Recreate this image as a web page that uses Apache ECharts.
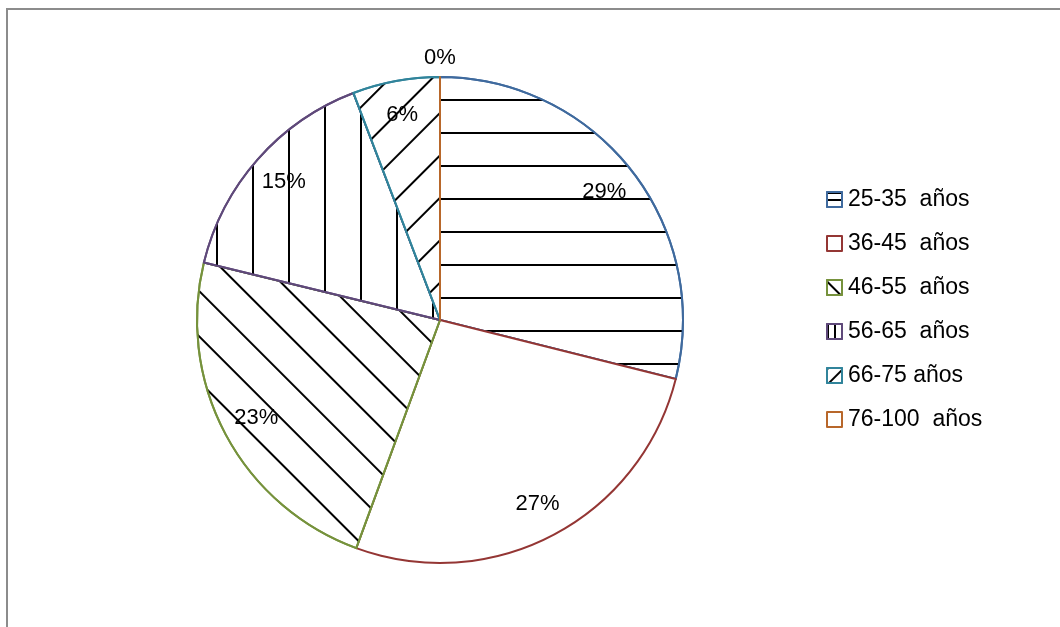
<!DOCTYPE html>
<html>
<head>
<meta charset="utf-8">
<script src="https://cdn.jsdelivr.net/npm/echarts@6/dist/echarts.min.js"></script>
<style>
html,body{margin:0;padding:0;background:#fff;}
#chart{width:1060px;height:627px;}
</style>
</head>
<body>
<div id="chart"></div>
<script>
// Data
const categories = ['25-35  años', '36-45  años', '46-55  años', '56-65  años', '66-75 años', '76-100  años'];
const values = [28.9, 26.7, 23.2, 15.4, 5.8, 0];
const borderColors = ['#3f6a9e', '#943634', '#76923C', '#5F497A', '#31849B', '#B8672A'];

const FONT = 'Liberation Sans, Arial, sans-serif';
const R = 243;
const CENTER = [440, 320];

// pattern (decal) definitions per slice
const hLines = {symbol: 'rect', symbolSize: 1, dashArrayX: [1, 0], dashArrayY: [1.6, 30.4], color: '#000', rotation: 0};
const vLines = {symbol: 'rect', symbolSize: 1, dashArrayX: [1.6, 33.4], dashArrayY: [1, 0], color: '#000', rotation: 0};
const dLinesDown = {symbol: 'rect', symbolSize: 1, dashArrayX: [1, 0], dashArrayY: [1.6, 29.4], color: '#000', rotation: Math.PI / 4};
const dLinesUp = {symbol: 'rect', symbolSize: 1, dashArrayX: [1, 0], dashArrayY: [1.6, 27.4], color: '#000', rotation: -Math.PI / 4};
const decals = [hLines, null, dLinesDown, vLines, dLinesUp, null];

// legend-icon patterns (smaller)
const lhLines = {symbol: 'rect', symbolSize: 1, dashArrayX: [1, 0], dashArrayY: [2, 5], color: '#000'};
const lvLines = {symbol: 'rect', symbolSize: 1, dashArrayX: [2, 5], dashArrayY: [1, 0], color: '#000'};
const ldDown = {symbol: 'rect', symbolSize: 1, dashArrayX: [1, 0], dashArrayY: [2, 18], color: '#000', rotation: Math.PI / 4};
const ldUp = {symbol: 'rect', symbolSize: 1, dashArrayX: [1, 0], dashArrayY: [2, 9], color: '#000', rotation: -Math.PI / 4};
const legendDecals = [lhLines, null, ldDown, lvLines, ldUp, null];

const mainData = categories.map((c, i) => {
  const it = {
    name: c,
    value: values[i],
    itemStyle: {color: '#fff', borderColor: borderColors[i], borderWidth: 2}
  };
  if (decals[i]) it.itemStyle.decal = decals[i];
  return it;
});

const total = values.reduce((a, b) => a + b, 0);
const fmt = p => Math.round(p.value / total * 100) + '%';

const innerLabelData = values.map((v, i) => ({
  name: 'lbl' + i,
  value: v,
  label: {show: v > 0}
}));
const outerLabelData = values.map((v, i) => ({
  name: 'olbl' + i,
  value: v,
  label: {show: v === 0}
}));

const chart = echarts.init(document.getElementById('chart'), null, {renderer: 'canvas'});
chart.setOption({
  animation: false,
  backgroundColor: '#fff',
  graphic: [{
    type: 'rect',
    shape: {x: 7, y: 9, width: 1100, height: 700},
    style: {fill: 'none', stroke: '#8c8c8c', lineWidth: 2},
    silent: true,
    z: 0
  }],
  legend: {
    orient: 'vertical',
    left: 826,
    top: 188,
    padding: 0,
    itemWidth: 15,
    itemHeight: 15,
    itemGap: 21,
    icon: 'rect',
    selectedMode: false,
    itemStyle: {borderWidth: 2},
    textStyle: {fontFamily: FONT, fontSize: 23, color: '#000', lineHeight: 23, padding: [0, 0, 0, 1]},
    data: categories.map((c, i) => {
      const d = {name: c, itemStyle: {color: '#fff', borderColor: borderColors[i], borderWidth: 2}};
      if (legendDecals[i]) d.itemStyle.decal = legendDecals[i];
      return d;
    })
  },
  series: [
    {
      type: 'pie',
      center: CENTER,
      radius: [0, R],
      startAngle: 90,
      clockwise: true,
      silent: true,
      label: {show: false},
      labelLine: {show: false},
      emphasis: {disabled: true},
      data: mainData
    },
    {
      type: 'pie',
      center: CENTER,
      radius: [R * 0.69, R],
      startAngle: 90,
      clockwise: true,
      silent: true,
      itemStyle: {color: 'rgba(0,0,0,0)', borderWidth: 0},
      label: {position: 'inside', formatter: fmt, fontFamily: FONT, fontSize: 22, color: '#000'},
      labelLine: {show: false},
      emphasis: {disabled: true},
      data: innerLabelData
    },
    {
      type: 'pie',
      center: CENTER,
      radius: [R + 8, R + 24],
      startAngle: 90,
      clockwise: true,
      silent: true,
      itemStyle: {color: 'rgba(0,0,0,0)', borderWidth: 0},
      label: {position: 'inside', formatter: fmt, fontFamily: FONT, fontSize: 22, color: '#000'},
      labelLine: {show: false},
      emphasis: {disabled: true},
      data: outerLabelData
    }
  ]
});
</script>
</body>
</html>
